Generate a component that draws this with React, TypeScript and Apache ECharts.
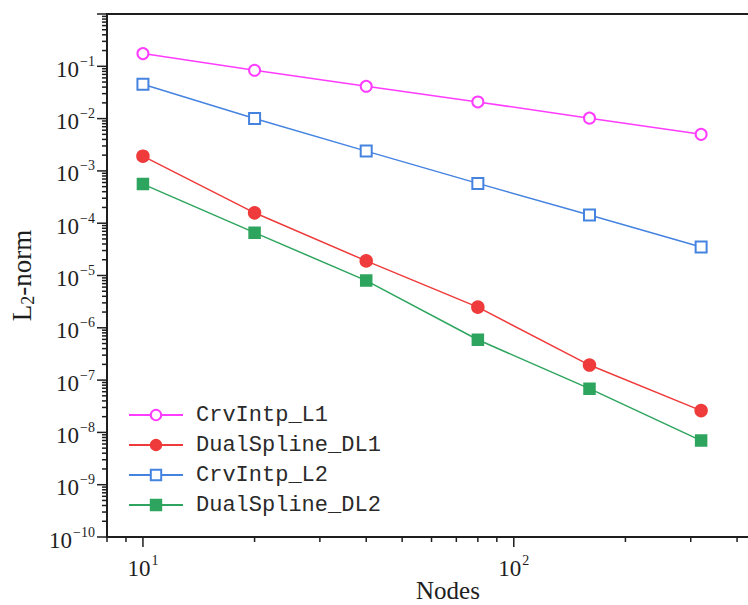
import React, { useEffect, useRef } from "react";
import * as echarts from "echarts";

// Number of nodes on the x axis
const NODES = [10, 20, 40, 80, 160, 320];

// L2-norm errors for each method
const CRV_INTP_L1 = [0.175, 0.084, 0.0415, 0.0208, 0.0102, 0.005];
const DUAL_SPLINE_DL1 = [1.91e-3, 1.58e-4, 1.9e-5, 2.48e-6, 1.94e-7, 2.61e-8];
const CRV_INTP_L2 = [0.0453, 0.01005, 2.39e-3, 5.77e-4, 1.43e-4, 3.52e-5];
const DUAL_SPLINE_DL2 = [5.6e-4, 6.59e-5, 8.0e-6, 5.9e-7, 6.86e-8, 6.98e-9];

const SERIES_NAMES = ["CrvIntp_L1", "DualSpline_DL1", "CrvIntp_L2", "DualSpline_DL2"];

// Axis ranges
const X_MIN = 8;
const X_MAX = 500;
const Y_MIN = 1e-10;
const Y_MAX = 1;

// Tick values
const Y_EXPONENTS = [-10, -9, -8, -7, -6, -5, -4, -3, -2, -1, 0];
const MINOR_MULTIPLIERS = [2, 3, 4, 5, 6, 7, 8, 9];
const X_MAJOR_TICKS = [10, 100];
const X_MINOR_TICKS = [8, 9, 20, 30, 40, 50, 60, 70, 80, 90, 200, 300, 400];

const INK = "#1e1e1e";
const MAJOR_LEN = 10;
const MINOR_LEN = 5;

const yTickData: number[][] = [];
Y_EXPONENTS.forEach((e) => {
  yTickData.push([X_MIN, Math.pow(10, e), MAJOR_LEN]);
  if (e < 0) {
    MINOR_MULTIPLIERS.forEach((m) => yTickData.push([X_MIN, m * Math.pow(10, e), MINOR_LEN]));
  }
});
const xTickData: number[][] = [
  ...X_MAJOR_TICKS.map((v) => [v, Y_MIN, MAJOR_LEN]),
  ...X_MINOR_TICKS.map((v) => [v, Y_MIN, MINOR_LEN]),
];

const powerLabel = (v: number) => {
  const e = Math.round(Math.log10(v));
  if (Math.abs(Math.log10(v) - e) > 1e-6) return "";
  const exp = e < 0 ? "\u2212" + -e : String(e);
  return `{b|10}{s|${exp}}`;
};

const labelRich = {
  b: { fontFamily: "Liberation Serif", fontSize: 23, color: INK, padding: [6, 0, 0, 0] },
  s: { fontFamily: "Liberation Serif", fontSize: 14, color: INK, padding: [0, 0, 10, 1] },
};

const App: React.FC = () => {
  const ref = useRef<HTMLDivElement>(null);

  useEffect(() => {
    if (!ref.current) return;
    const chart = echarts.init(ref.current, null, { renderer: "svg" });

    const lineSeries = (
      name: string,
      values: number[],
      color: string,
      symbol: string,
      size: number
    ) => ({
      name,
      type: "line",
      data: NODES.map((n, i) => [n, values[i]]),
      symbol,
      symbolSize: size,
      showAllSymbol: true,
      lineStyle: { color, width: 1.5 },
      itemStyle: { color, borderColor: color, borderWidth: 1.5 },
      z: 5,
    });

    const tickSeries = (axis: "x" | "y", data: number[][]) => ({
      type: "custom",
      silent: true,
      clip: false,
      z: 10,
      data,
      encode: { x: 0, y: 1 },
      renderItem: (params: any, api: any) => {
        const pt = api.coord([api.value(0), api.value(1)]);
        const len = api.value(2);
        const cs = params.coordSys;
        if (axis === "y") {
          return {
            type: "line",
            shape: { x1: cs.x - len, y1: pt[1], x2: cs.x, y2: pt[1] },
            style: { stroke: INK, lineWidth: 1.5 },
          };
        }
        const yb = cs.y + cs.height;
        return {
          type: "line",
          shape: { x1: pt[0], y1: yb, x2: pt[0], y2: yb + len },
          style: { stroke: INK, lineWidth: 1.5 },
        };
      },
    });

    chart.setOption({
      animation: false,
      backgroundColor: "#ffffff",
      grid: {
        left: 107,
        top: 14,
        width: 666,
        height: 523,
        containLabel: false,
        outerBoundsMode: "none",
        show: true,
        borderColor: INK,
        borderWidth: 2,
        backgroundColor: "#ffffff",
      },
      legend: {
        data: SERIES_NAMES,
        orient: "vertical",
        left: 128,
        top: 404,
        padding: 0,
        itemGap: 8,
        itemWidth: 54,
        itemHeight: 13,
        textStyle: {
          fontFamily: "Liberation Mono",
          fontSize: 22,
          lineHeight: 22,
          color: "#2a2a2a",
          padding: [0, 0, 0, 8],
        },
      },
      xAxis: {
        type: "log",
        logBase: 10,
        min: X_MIN,
        max: X_MAX,
        name: "Nodes",
        nameLocation: "middle",
        nameGap: 41,
        nameMoveOverlap: false,
        nameTextStyle: {
          fontFamily: "Liberation Serif",
          fontSize: 25,
          color: INK,
          padding: [0, 0, 0, 16],
        },
        axisLine: { show: true, lineStyle: { color: INK, width: 2 } },
        axisTick: { show: false },
        splitLine: { show: false },
        axisLabel: {
          margin: 14,
          fontFamily: "Liberation Serif",
          fontSize: 23,
          color: INK,
          showMinLabel: false,
          showMaxLabel: false,
          formatter: powerLabel,
          rich: labelRich,
        },
      },
      yAxis: {
        type: "log",
        logBase: 10,
        min: Y_MIN,
        max: Y_MAX,
        interval: 1,
        name: "{l|L}{sub|2}{l|-norm}",
        nameLocation: "middle",
        nameGap: 70,
        nameMoveOverlap: false,
        nameTextStyle: {
          rich: {
            l: { fontFamily: "Liberation Serif", fontSize: 27, color: INK },
            sub: { fontFamily: "Liberation Serif", fontSize: 18, color: INK, padding: [12, 0, 0, 0] },
          },
        },
        axisLine: { show: true, lineStyle: { color: INK, width: 2 } },
        axisTick: { show: false },
        splitLine: { show: false },
        axisLabel: {
          margin: 12,
          fontFamily: "Liberation Serif",
          fontSize: 23,
          color: INK,
          showMaxLabel: false,
          formatter: powerLabel,
          rich: labelRich,
        },
      },
      series: [
        lineSeries(SERIES_NAMES[0], CRV_INTP_L1, "#ff3cff", "emptyCircle", 11),
        lineSeries(SERIES_NAMES[1], DUAL_SPLINE_DL1, "#ef3b3b", "circle", 12),
        lineSeries(SERIES_NAMES[2], CRV_INTP_L2, "#4583e0", "emptyRect", 11),
        lineSeries(SERIES_NAMES[3], DUAL_SPLINE_DL2, "#2ea55e", "rect", 11),
        tickSeries("y", yTickData),
        tickSeries("x", xTickData),
      ],
    });

    return () => chart.dispose();
  }, []);

  return (
    <div
      ref={ref}
      style={{ position: "fixed", left: 0, top: 0, width: 748, height: 605, background: "#fff" }}
    />
  );
};

export default App;
